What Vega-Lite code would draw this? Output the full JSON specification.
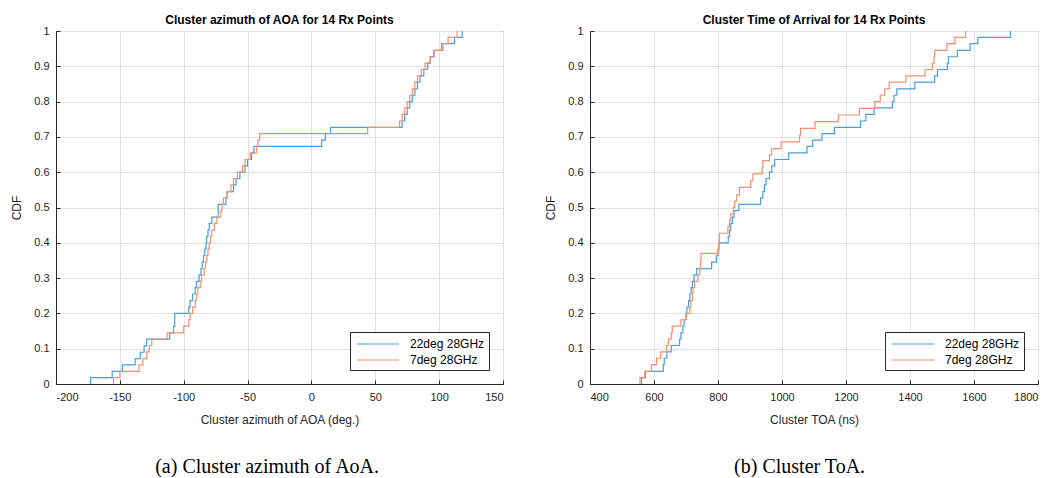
{
  "$schema": "https://vega.github.io/schema/vega-lite/v6.json",
  "background": "white",
  "padding": {"left": 10, "top": 13, "right": 5, "bottom": 0},
  "spacing": 40,
  "resolve": {"scale": {"color": "independent"}, "legend": {"color": "independent"}},
  "datasets": {
    "aoa": [
      {"s": "22deg 28GHz", "x": -173, "cdf": 0},
      {"s": "22deg 28GHz", "x": -173, "cdf": 0.018},
      {"s": "22deg 28GHz", "x": -156, "cdf": 0.036},
      {"s": "22deg 28GHz", "x": -148, "cdf": 0.054},
      {"s": "22deg 28GHz", "x": -138, "cdf": 0.072},
      {"s": "22deg 28GHz", "x": -134, "cdf": 0.09},
      {"s": "22deg 28GHz", "x": -131, "cdf": 0.108},
      {"s": "22deg 28GHz", "x": -129, "cdf": 0.127},
      {"s": "22deg 28GHz", "x": -111, "cdf": 0.145},
      {"s": "22deg 28GHz", "x": -108, "cdf": 0.163},
      {"s": "22deg 28GHz", "x": -107, "cdf": 0.2},
      {"s": "22deg 28GHz", "x": -96, "cdf": 0.218},
      {"s": "22deg 28GHz", "x": -95, "cdf": 0.236},
      {"s": "22deg 28GHz", "x": -93, "cdf": 0.255},
      {"s": "22deg 28GHz", "x": -91, "cdf": 0.273},
      {"s": "22deg 28GHz", "x": -90, "cdf": 0.291},
      {"s": "22deg 28GHz", "x": -88, "cdf": 0.309},
      {"s": "22deg 28GHz", "x": -86.5, "cdf": 0.327},
      {"s": "22deg 28GHz", "x": -85.5, "cdf": 0.345},
      {"s": "22deg 28GHz", "x": -84.5, "cdf": 0.364},
      {"s": "22deg 28GHz", "x": -83.5, "cdf": 0.382},
      {"s": "22deg 28GHz", "x": -82.5, "cdf": 0.4},
      {"s": "22deg 28GHz", "x": -82, "cdf": 0.418},
      {"s": "22deg 28GHz", "x": -81, "cdf": 0.436},
      {"s": "22deg 28GHz", "x": -80, "cdf": 0.455},
      {"s": "22deg 28GHz", "x": -78, "cdf": 0.473},
      {"s": "22deg 28GHz", "x": -73, "cdf": 0.509},
      {"s": "22deg 28GHz", "x": -67, "cdf": 0.527},
      {"s": "22deg 28GHz", "x": -66, "cdf": 0.545},
      {"s": "22deg 28GHz", "x": -61, "cdf": 0.564},
      {"s": "22deg 28GHz", "x": -59, "cdf": 0.582},
      {"s": "22deg 28GHz", "x": -56, "cdf": 0.6},
      {"s": "22deg 28GHz", "x": -52, "cdf": 0.618},
      {"s": "22deg 28GHz", "x": -50, "cdf": 0.636},
      {"s": "22deg 28GHz", "x": -47, "cdf": 0.655},
      {"s": "22deg 28GHz", "x": -45, "cdf": 0.673},
      {"s": "22deg 28GHz", "x": 8, "cdf": 0.691},
      {"s": "22deg 28GHz", "x": 11, "cdf": 0.709},
      {"s": "22deg 28GHz", "x": 15, "cdf": 0.727},
      {"s": "22deg 28GHz", "x": 71, "cdf": 0.745},
      {"s": "22deg 28GHz", "x": 73, "cdf": 0.764},
      {"s": "22deg 28GHz", "x": 75, "cdf": 0.782},
      {"s": "22deg 28GHz", "x": 77, "cdf": 0.8},
      {"s": "22deg 28GHz", "x": 79, "cdf": 0.818},
      {"s": "22deg 28GHz", "x": 81, "cdf": 0.836},
      {"s": "22deg 28GHz", "x": 83, "cdf": 0.855},
      {"s": "22deg 28GHz", "x": 85, "cdf": 0.873},
      {"s": "22deg 28GHz", "x": 88, "cdf": 0.891},
      {"s": "22deg 28GHz", "x": 91, "cdf": 0.909},
      {"s": "22deg 28GHz", "x": 93, "cdf": 0.927},
      {"s": "22deg 28GHz", "x": 96, "cdf": 0.945},
      {"s": "22deg 28GHz", "x": 102, "cdf": 0.964},
      {"s": "22deg 28GHz", "x": 112, "cdf": 0.982},
      {"s": "22deg 28GHz", "x": 118, "cdf": 1},
      {"s": "7deg 28GHz", "x": -155, "cdf": 0},
      {"s": "7deg 28GHz", "x": -155, "cdf": 0.018},
      {"s": "7deg 28GHz", "x": -150, "cdf": 0.036},
      {"s": "7deg 28GHz", "x": -135, "cdf": 0.054},
      {"s": "7deg 28GHz", "x": -132, "cdf": 0.072},
      {"s": "7deg 28GHz", "x": -129, "cdf": 0.091},
      {"s": "7deg 28GHz", "x": -127, "cdf": 0.109},
      {"s": "7deg 28GHz", "x": -125, "cdf": 0.127},
      {"s": "7deg 28GHz", "x": -113, "cdf": 0.145},
      {"s": "7deg 28GHz", "x": -100, "cdf": 0.164},
      {"s": "7deg 28GHz", "x": -96, "cdf": 0.182},
      {"s": "7deg 28GHz", "x": -95, "cdf": 0.2},
      {"s": "7deg 28GHz", "x": -93, "cdf": 0.218},
      {"s": "7deg 28GHz", "x": -91, "cdf": 0.236},
      {"s": "7deg 28GHz", "x": -90, "cdf": 0.255},
      {"s": "7deg 28GHz", "x": -89, "cdf": 0.273},
      {"s": "7deg 28GHz", "x": -87, "cdf": 0.291},
      {"s": "7deg 28GHz", "x": -86, "cdf": 0.309},
      {"s": "7deg 28GHz", "x": -84, "cdf": 0.327},
      {"s": "7deg 28GHz", "x": -83, "cdf": 0.345},
      {"s": "7deg 28GHz", "x": -82, "cdf": 0.364},
      {"s": "7deg 28GHz", "x": -81, "cdf": 0.382},
      {"s": "7deg 28GHz", "x": -80, "cdf": 0.4},
      {"s": "7deg 28GHz", "x": -79, "cdf": 0.418},
      {"s": "7deg 28GHz", "x": -78, "cdf": 0.436},
      {"s": "7deg 28GHz", "x": -76, "cdf": 0.455},
      {"s": "7deg 28GHz", "x": -74, "cdf": 0.473},
      {"s": "7deg 28GHz", "x": -71, "cdf": 0.491},
      {"s": "7deg 28GHz", "x": -70, "cdf": 0.509},
      {"s": "7deg 28GHz", "x": -69, "cdf": 0.527},
      {"s": "7deg 28GHz", "x": -66, "cdf": 0.545},
      {"s": "7deg 28GHz", "x": -63, "cdf": 0.564},
      {"s": "7deg 28GHz", "x": -61, "cdf": 0.582},
      {"s": "7deg 28GHz", "x": -58, "cdf": 0.6},
      {"s": "7deg 28GHz", "x": -54, "cdf": 0.618},
      {"s": "7deg 28GHz", "x": -52, "cdf": 0.636},
      {"s": "7deg 28GHz", "x": -48, "cdf": 0.655},
      {"s": "7deg 28GHz", "x": -43, "cdf": 0.673},
      {"s": "7deg 28GHz", "x": -42, "cdf": 0.691},
      {"s": "7deg 28GHz", "x": -40.5, "cdf": 0.709},
      {"s": "7deg 28GHz", "x": 44, "cdf": 0.727},
      {"s": "7deg 28GHz", "x": 69, "cdf": 0.745},
      {"s": "7deg 28GHz", "x": 71, "cdf": 0.764},
      {"s": "7deg 28GHz", "x": 73, "cdf": 0.782},
      {"s": "7deg 28GHz", "x": 75, "cdf": 0.8},
      {"s": "7deg 28GHz", "x": 77, "cdf": 0.818},
      {"s": "7deg 28GHz", "x": 79, "cdf": 0.836},
      {"s": "7deg 28GHz", "x": 81, "cdf": 0.855},
      {"s": "7deg 28GHz", "x": 83, "cdf": 0.873},
      {"s": "7deg 28GHz", "x": 86, "cdf": 0.891},
      {"s": "7deg 28GHz", "x": 89, "cdf": 0.909},
      {"s": "7deg 28GHz", "x": 93, "cdf": 0.927},
      {"s": "7deg 28GHz", "x": 96, "cdf": 0.945},
      {"s": "7deg 28GHz", "x": 103, "cdf": 0.964},
      {"s": "7deg 28GHz", "x": 107, "cdf": 0.982},
      {"s": "7deg 28GHz", "x": 114, "cdf": 1}
    ],
    "toa": [
      {"s": "22deg 28GHz", "x": 561, "cdf": 0},
      {"s": "22deg 28GHz", "x": 561, "cdf": 0.018},
      {"s": "22deg 28GHz", "x": 573, "cdf": 0.036},
      {"s": "22deg 28GHz", "x": 629, "cdf": 0.055},
      {"s": "22deg 28GHz", "x": 632, "cdf": 0.073},
      {"s": "22deg 28GHz", "x": 640, "cdf": 0.091},
      {"s": "22deg 28GHz", "x": 654, "cdf": 0.109},
      {"s": "22deg 28GHz", "x": 680, "cdf": 0.127},
      {"s": "22deg 28GHz", "x": 684, "cdf": 0.145},
      {"s": "22deg 28GHz", "x": 690, "cdf": 0.164},
      {"s": "22deg 28GHz", "x": 694, "cdf": 0.182},
      {"s": "22deg 28GHz", "x": 700, "cdf": 0.2},
      {"s": "22deg 28GHz", "x": 703, "cdf": 0.218},
      {"s": "22deg 28GHz", "x": 708, "cdf": 0.236},
      {"s": "22deg 28GHz", "x": 712, "cdf": 0.255},
      {"s": "22deg 28GHz", "x": 716, "cdf": 0.273},
      {"s": "22deg 28GHz", "x": 720, "cdf": 0.291},
      {"s": "22deg 28GHz", "x": 725, "cdf": 0.309},
      {"s": "22deg 28GHz", "x": 733, "cdf": 0.327},
      {"s": "22deg 28GHz", "x": 780, "cdf": 0.345},
      {"s": "22deg 28GHz", "x": 795, "cdf": 0.364},
      {"s": "22deg 28GHz", "x": 800, "cdf": 0.382},
      {"s": "22deg 28GHz", "x": 803, "cdf": 0.4},
      {"s": "22deg 28GHz", "x": 832, "cdf": 0.418},
      {"s": "22deg 28GHz", "x": 836, "cdf": 0.436},
      {"s": "22deg 28GHz", "x": 840, "cdf": 0.455},
      {"s": "22deg 28GHz", "x": 845, "cdf": 0.473},
      {"s": "22deg 28GHz", "x": 850, "cdf": 0.491},
      {"s": "22deg 28GHz", "x": 865, "cdf": 0.509},
      {"s": "22deg 28GHz", "x": 933, "cdf": 0.527},
      {"s": "22deg 28GHz", "x": 940, "cdf": 0.545},
      {"s": "22deg 28GHz", "x": 945, "cdf": 0.564},
      {"s": "22deg 28GHz", "x": 950, "cdf": 0.582},
      {"s": "22deg 28GHz", "x": 961, "cdf": 0.6},
      {"s": "22deg 28GHz", "x": 968, "cdf": 0.618},
      {"s": "22deg 28GHz", "x": 977, "cdf": 0.636},
      {"s": "22deg 28GHz", "x": 1021, "cdf": 0.655},
      {"s": "22deg 28GHz", "x": 1078, "cdf": 0.673},
      {"s": "22deg 28GHz", "x": 1096, "cdf": 0.691},
      {"s": "22deg 28GHz", "x": 1125, "cdf": 0.709},
      {"s": "22deg 28GHz", "x": 1164, "cdf": 0.727},
      {"s": "22deg 28GHz", "x": 1245, "cdf": 0.745},
      {"s": "22deg 28GHz", "x": 1262, "cdf": 0.764},
      {"s": "22deg 28GHz", "x": 1288, "cdf": 0.782},
      {"s": "22deg 28GHz", "x": 1345, "cdf": 0.8},
      {"s": "22deg 28GHz", "x": 1350, "cdf": 0.818},
      {"s": "22deg 28GHz", "x": 1359, "cdf": 0.836},
      {"s": "22deg 28GHz", "x": 1415, "cdf": 0.855},
      {"s": "22deg 28GHz", "x": 1477, "cdf": 0.873},
      {"s": "22deg 28GHz", "x": 1486, "cdf": 0.891},
      {"s": "22deg 28GHz", "x": 1517, "cdf": 0.909},
      {"s": "22deg 28GHz", "x": 1520, "cdf": 0.927},
      {"s": "22deg 28GHz", "x": 1548, "cdf": 0.945},
      {"s": "22deg 28GHz", "x": 1588, "cdf": 0.964},
      {"s": "22deg 28GHz", "x": 1612, "cdf": 0.982},
      {"s": "22deg 28GHz", "x": 1714, "cdf": 1},
      {"s": "7deg 28GHz", "x": 556, "cdf": 0},
      {"s": "7deg 28GHz", "x": 556, "cdf": 0.018},
      {"s": "7deg 28GHz", "x": 571, "cdf": 0.036},
      {"s": "7deg 28GHz", "x": 592, "cdf": 0.055},
      {"s": "7deg 28GHz", "x": 608, "cdf": 0.073},
      {"s": "7deg 28GHz", "x": 621, "cdf": 0.091},
      {"s": "7deg 28GHz", "x": 639, "cdf": 0.109},
      {"s": "7deg 28GHz", "x": 645, "cdf": 0.127},
      {"s": "7deg 28GHz", "x": 654, "cdf": 0.145},
      {"s": "7deg 28GHz", "x": 657, "cdf": 0.164},
      {"s": "7deg 28GHz", "x": 684, "cdf": 0.182},
      {"s": "7deg 28GHz", "x": 701, "cdf": 0.2},
      {"s": "7deg 28GHz", "x": 712, "cdf": 0.218},
      {"s": "7deg 28GHz", "x": 715, "cdf": 0.236},
      {"s": "7deg 28GHz", "x": 720, "cdf": 0.255},
      {"s": "7deg 28GHz", "x": 722, "cdf": 0.273},
      {"s": "7deg 28GHz", "x": 727, "cdf": 0.291},
      {"s": "7deg 28GHz", "x": 737, "cdf": 0.309},
      {"s": "7deg 28GHz", "x": 743, "cdf": 0.327},
      {"s": "7deg 28GHz", "x": 745, "cdf": 0.345},
      {"s": "7deg 28GHz", "x": 747, "cdf": 0.37},
      {"s": "7deg 28GHz", "x": 802, "cdf": 0.4},
      {"s": "7deg 28GHz", "x": 804, "cdf": 0.427},
      {"s": "7deg 28GHz", "x": 831, "cdf": 0.445},
      {"s": "7deg 28GHz", "x": 836, "cdf": 0.464},
      {"s": "7deg 28GHz", "x": 840, "cdf": 0.482},
      {"s": "7deg 28GHz", "x": 848, "cdf": 0.5},
      {"s": "7deg 28GHz", "x": 852, "cdf": 0.518},
      {"s": "7deg 28GHz", "x": 858, "cdf": 0.536},
      {"s": "7deg 28GHz", "x": 867, "cdf": 0.557},
      {"s": "7deg 28GHz", "x": 902, "cdf": 0.576},
      {"s": "7deg 28GHz", "x": 909, "cdf": 0.595},
      {"s": "7deg 28GHz", "x": 938, "cdf": 0.614},
      {"s": "7deg 28GHz", "x": 940, "cdf": 0.633},
      {"s": "7deg 28GHz", "x": 961, "cdf": 0.649},
      {"s": "7deg 28GHz", "x": 968, "cdf": 0.667},
      {"s": "7deg 28GHz", "x": 997, "cdf": 0.686},
      {"s": "7deg 28GHz", "x": 1055, "cdf": 0.705},
      {"s": "7deg 28GHz", "x": 1058, "cdf": 0.724},
      {"s": "7deg 28GHz", "x": 1103, "cdf": 0.743},
      {"s": "7deg 28GHz", "x": 1176, "cdf": 0.762},
      {"s": "7deg 28GHz", "x": 1242, "cdf": 0.781},
      {"s": "7deg 28GHz", "x": 1290, "cdf": 0.8},
      {"s": "7deg 28GHz", "x": 1307, "cdf": 0.818},
      {"s": "7deg 28GHz", "x": 1321, "cdf": 0.836},
      {"s": "7deg 28GHz", "x": 1335, "cdf": 0.855},
      {"s": "7deg 28GHz", "x": 1387, "cdf": 0.873},
      {"s": "7deg 28GHz", "x": 1447, "cdf": 0.891},
      {"s": "7deg 28GHz", "x": 1470, "cdf": 0.909},
      {"s": "7deg 28GHz", "x": 1475, "cdf": 0.927},
      {"s": "7deg 28GHz", "x": 1477, "cdf": 0.945},
      {"s": "7deg 28GHz", "x": 1515, "cdf": 0.964},
      {"s": "7deg 28GHz", "x": 1540, "cdf": 0.982},
      {"s": "7deg 28GHz", "x": 1574, "cdf": 1}
    ]
  },
  "config": {
    "font": "Liberation Sans",
    "view": {"stroke": "#262626", "strokeWidth": 1},
    "axis": {
      "domainColor": "#262626",
      "gridColor": "#e2e2e2",
      "gridOpacity": 1,
      "labelColor": "#262626",
      "labelFontSize": 11,
      "titleFontSize": 12,
      "titleFontWeight": "normal",
      "titleColor": "#262626",
      "tickColor": "#262626",
      "tickSize": -4,
      "labelPadding": 11
    },
    "legend": {
      "orient": "bottom-right",
      "offset": 14,
      "strokeColor": "#262626",
      "fillColor": "white",
      "padding": 4,
      "symbolType": "M-3,0H3",
      "symbolSize": 196,
      "symbolOffset": 16,
      "labelOffset": 24,
      "symbolStrokeWidth": 1.2,
      "labelFontSize": 12,
      "labelColor": "#000000",
      "rowPadding": 2
    }
  },
  "hconcat": [
    {
      "title": {"text": "(a) Cluster azimuth of AoA.", "orient": "bottom", "anchor": "middle", "font": "Liberation Serif", "fontSize": 20, "fontWeight": "normal", "color": "#000000", "offset": 31, "dx": 10},
      "resolve": {"scale": {"color": "independent"}, "legend": {"color": "independent"}},
      "vconcat": [
        {
          "width": 447,
          "height": 353,
          "title": {"text": "Cluster azimuth of AOA for 14 Rx Points", "frame": "group", "fontSize": 12, "fontWeight": "bold", "color": "#000000", "offset": -2},
          "data": {"name": "aoa"},
          "mark": {"type": "line", "interpolate": "step-after", "strokeWidth": 1.2},
          "encoding": {
            "x": {"field": "x", "type": "quantitative", "scale": {"domain": [-200, 150], "nice": false, "zero": false},
                  "axis": {"values": [-200, -150, -100, -50, 0, 50, 100, 150], "labelExpr": "datum.value + ''", "title": "Cluster azimuth of AOA (deg.)", "titlePadding": 12}},
            "y": {"field": "cdf", "type": "quantitative", "scale": {"domain": [0, 1], "nice": false},
                  "axis": {"values": [0, 0.1, 0.2, 0.3, 0.4, 0.5, 0.6, 0.7, 0.8, 0.9, 1], "format": "~g", "title": "CDF", "titlePadding": 10}},
            "color": {"field": "s", "type": "nominal", "scale": {"domain": ["22deg 28GHz", "7deg 28GHz"], "range": ["#4C9ED9", "#F0906F"]}, "legend": {"title": null, "orient": "bottom-right"}},
            "order": {"field": "cdf", "type": "quantitative"}
          }
        }
      ]
    },
    {
      "title": {"text": "(b) Cluster ToA.", "orient": "bottom", "anchor": "middle", "font": "Liberation Serif", "fontSize": 20, "fontWeight": "normal", "color": "#000000", "offset": 31, "dx": 8},
      "resolve": {"scale": {"color": "independent"}, "legend": {"color": "independent"}},
      "vconcat": [
        {
          "width": 448,
          "height": 353,
          "title": {"text": "Cluster Time of Arrival for 14 Rx Points", "frame": "group", "fontSize": 12, "fontWeight": "bold", "color": "#000000", "offset": -2},
          "data": {"name": "toa"},
          "mark": {"type": "line", "interpolate": "step-after", "strokeWidth": 1.2},
          "encoding": {
            "x": {"field": "x", "type": "quantitative", "scale": {"domain": [400, 1800], "nice": false, "zero": false},
                  "axis": {"values": [400, 600, 800, 1000, 1200, 1400, 1600, 1800], "format": "d", "title": "Cluster TOA (ns)", "titlePadding": 12}},
            "y": {"field": "cdf", "type": "quantitative", "scale": {"domain": [0, 1], "nice": false},
                  "axis": {"values": [0, 0.1, 0.2, 0.3, 0.4, 0.5, 0.6, 0.7, 0.8, 0.9, 1], "format": "~g", "title": "CDF", "titlePadding": 10}},
            "color": {"field": "s", "type": "nominal", "scale": {"domain": ["22deg 28GHz", "7deg 28GHz"], "range": ["#4C9ED9", "#F0906F"]}, "legend": {"title": null, "orient": "bottom-right"}},
            "order": {"field": "cdf", "type": "quantitative"}
          }
        }
      ]
    }
  ]
}
